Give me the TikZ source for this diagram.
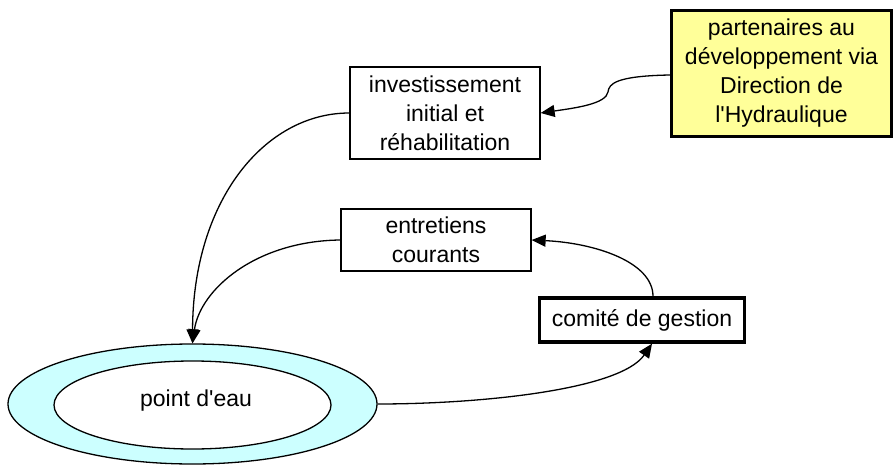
\documentclass[tikz,border=0pt]{standalone}
\usepackage{fontspec}
\setmainfont{Liberation Sans}[Ligatures=TeXOff]
\usetikzlibrary{arrows.meta,shapes.geometric}
\definecolor{paleyellow}{HTML}{FFFF99}
\definecolor{palecyan}{HTML}{CCFFFF}
\begin{document}
\begin{tikzpicture}[x=1pt,y=-1pt,
  every node/.style={font=\fontsize{23}{29}\selectfont, inner sep=0pt},
  thinbox/.style={draw, line width=1.3pt, rectangle, align=center},
  thickbox/.style={draw, line width=3.4pt, rectangle, align=center},
  flow/.style={line width=1.3pt, -{Triangle[length=14pt,width=12pt]}}]
  \useasboundingbox (0,0) rectangle (894,465);

  % water point: outer ring and inner ellipse
  \node[ellipse, draw, line width=1.3pt, fill=palecyan,
        minimum width=369pt, minimum height=120pt] (ring) at (192.5,404) {};
  \node[ellipse, draw, line width=1.3pt, fill=white,
        minimum width=277pt, minimum height=88pt] (pt) at (192.5,405) {};
  \node (ptlabel) at (196,401) {point d'eau};

  % boxes
  \node[thickbox, fill=paleyellow, minimum width=220pt, minimum height=126pt]
        (part) at (781.5,73.5) {partenaires au\\développement via\\Direction de\\l'Hydraulique};
  \node[thinbox, minimum width=190pt, minimum height=92pt]
        (inv) at (445,113) {investissement\\initial et\\réhabilitation};
  \node[thinbox, minimum width=190pt, minimum height=62pt]
        (ent) at (436,240) {entretiens\\courants};
  \node[thickbox, minimum width=205pt, minimum height=44pt]
        (com) at (642,320) {comité de gestion};

  % connectors
  \draw[flow] (part.west |- 0,75) .. controls (615,76) and (609,84) .. (608,92)
        .. controls (606,104) and (575,108) .. (inv.east);
  \draw[flow] (inv.west) .. controls (265,113) and (193,200) .. (ring.north);
  \draw[flow] (ent.west) .. controls (255,241) and (200,290) .. (ring.north);
  \draw[flow] (ring.east) .. controls (480,404) and (620,390) .. ([xshift=10pt]com.south);
  \draw[flow] ([xshift=11pt]com.north) .. controls (653,262) and (595,243) .. (ent.east);
\end{tikzpicture}
\end{document}
